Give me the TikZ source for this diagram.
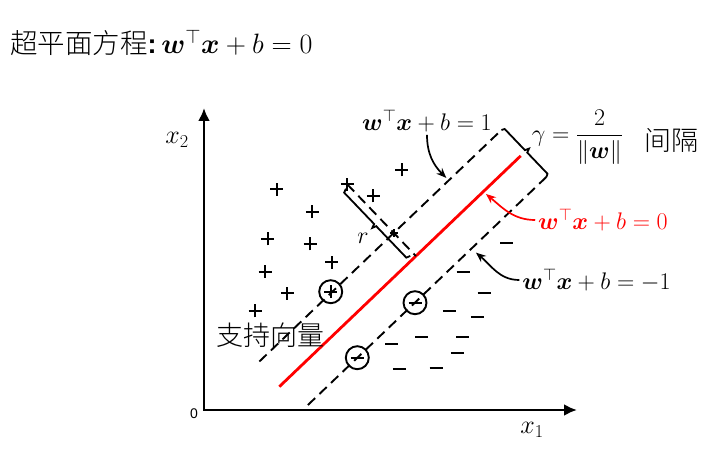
\RequirePackage{fix-cm}
\documentclass[tikz,border=0pt]{standalone}
\usepackage{amsmath,bm}
\usepackage{fontspec}
\newfontfamily\cjk{Noto Sans CJK SC Light}
\newfontfamily\lsans{Liberation Sans}
\usetikzlibrary{arrows.meta,calc}
\begin{document}
\begin{tikzpicture}[x=1pt,y=1pt,
  lbl/.style={inner sep=0pt, outer sep=3pt, font=\fontsize{24}{28}\selectfont},
  cjklbl/.style={inner sep=0pt, font=\cjk\fontsize{27}{32}\selectfont},
  axlbl/.style={inner sep=0pt, font=\fontsize{26}{30}\selectfont},
  axisln/.style={line width=2.6pt, line join=miter},
  dashln/.style={line width=1.9pt, dash pattern=on 10pt off 6pt},
  redln/.style={line width=2.8pt, red},
  bracest/.style={line width=1.8pt, line join=miter},
  ann/.style={line width=1.7pt, -{Stealth[length=10pt,width=8pt]}},
  circmk/.style={line width=1.9pt},
  plusmk/.pic={\draw[line width=2pt] (-6.5,0)--(6.5,0) (0,-6.5)--(0,6.5);},
  minusmk/.pic={\draw[line width=2pt] (-6.5,0)--(6.5,0);},
  splus/.pic={\draw[line width=1.5pt] (-4,0)--(4,0) (0,-4)--(0,4);}
]
\useasboundingbox (0,0) rectangle (722,460);

% axes
\coordinate (O) at (204,50);
\coordinate (Ytip) at (204,352);
\coordinate (Xtip) at (577,50);
\draw[axisln, {Latex[length=13pt,width=12pt]}-{Latex[length=13pt,width=12pt]}] (Ytip) |- (Xtip);

% lines in rotated frame
\begin{scope}[shift={(279.3,73.3)}, rotate=43.72]
  \draw[redln] (0,0) -- (334,0);
  \draw[dashln] (3,32) -- (338,32);
  \draw[dashln] (8,-33) -- (338,-33);
  \draw[bracest] (338,32) -- (341,30.5) -- (341,1.2) -- (345,-0.5) -- (341,-2.2) -- (341,-31.5) -- (338,-33);
  \draw[dashln] (189,99.4) -- (189,0);
  \draw[bracest] (185,97) -- (181,95.5) -- (181,52) -- (177,50.5) -- (181,49) -- (181,5.5) -- (185,4);
  \coordinate (t1) at (265,35.5);
  \coordinate (t0) at (282.6,-3.5);
  \coordinate (tm1) at (234.8,-39);
  \coordinate (sp) at (189,32);
\end{scope}
\pic at (sp) {splus};

% plus samples
\foreach \p in {(276.7,270.7),(312.3,248.3),(267.7,221),(310,216),(331.7,197.7),(347.3,275.7),(373.3,264),(401.7,290),(265,188.3),(287.3,166.7),(255,149)}
  \pic at \p {plusmk};
% minus samples
\foreach \p in {(506.7,216.7),(463,188.3),(484,167.3),(449.3,149),(477.3,143.3),(421.7,123.3),(462.7,123.3),(391.7,116),(457.3,107.3),(399.3,91),(436,92.3)}
  \pic at \p {minusmk};
% support vectors
\draw[circmk] (330.7,168.3) circle (11.5);
\pic at (330.7,168.3) {plusmk};
\draw[circmk] (415,157.3) circle (11.5);
\pic at (415,157.3) {minusmk};
\draw[circmk] (357.3,102.3) circle (11.5);
\pic at (357.3,102.3) {minusmk};

% labels
\node[anchor=west, inner sep=0pt] (title) at (10,417)
  {{\cjk\fontsize{27.5}{32}\selectfont 超平面方程}{\lsans\bfseries\fontsize{27}{32}\selectfont :}\fontsize{28}{32}\selectfont$\,\boldsymbol{w}^{\top}\boldsymbol{x}+b=0$};
\node[lbl] (l1) at (427,339) {$\boldsymbol{w}^{\top}\boldsymbol{x}+b=1$};
\node[lbl, text=red] (l0) at (603,240) {$\boldsymbol{w}^{\top}\boldsymbol{x}+b=0$};
\node[lbl] (lm1) at (596.5,180) {$\boldsymbol{w}^{\top}\boldsymbol{x}+b=-1$};
\node[lbl] (gam) at (577.5,323) {$\gamma=\dfrac{2}{\|\boldsymbol{w}\|}$};
\node[cjklbl] (jg) at (671,320) {间隔};
\node[lbl] (r) at (363,222) {$r$};
\node[cjklbl] (zc) at (270,125) {支持向量};
\node[axlbl] (x2) at (177,320) {$x_2$};
\node[axlbl] (x1) at (532,30) {$x_1$};
\node[inner sep=0pt, font=\lsans\fontsize{14}{16}\selectfont] (zero) at (194,46) {0};

% annotation arrows
\draw[ann] (l1.south) to[out=-90,in=135] (t1);
\draw[ann, red] (l0.west) to[out=180,in=-40] (t0);
\draw[ann] (lm1.west) to[out=180,in=-40] (tm1);
\end{tikzpicture}
\end{document}
